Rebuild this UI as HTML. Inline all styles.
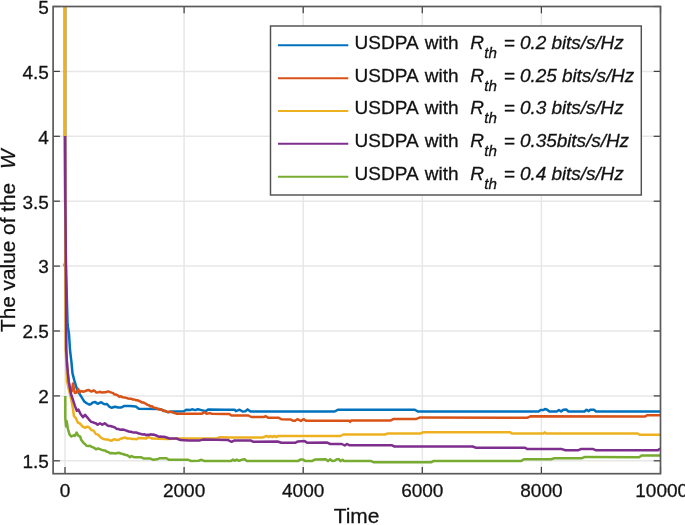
<!DOCTYPE html>
<html><head><meta charset="utf-8"><title>chart</title>
<style>
html,body{margin:0;padding:0;background:#fff;}
body{width:685px;height:525px;position:relative;overflow:hidden;font-family:"Liberation Sans",sans-serif;color:#111;}
.yt{position:absolute;left:0;width:48.9px;text-align:right;font-size:19px;line-height:20px;height:20px;}
.xt{position:absolute;top:481.4px;width:80px;text-align:center;font-size:19px;line-height:20px;}
.lg{position:absolute;left:353px;font-size:19px;line-height:20px;white-space:nowrap;}
.lg.sub{font-size:15.2px;}
.xl{position:absolute;left:301.5px;width:110px;text-align:center;top:506px;font-size:20.9px;line-height:20px;}
.yl{position:absolute;left:-1.6px;top:332.3px;white-space:nowrap;font-size:20.8px;line-height:20px;transform-origin:0 0;transform:rotate(-90deg);}
.yl i{margin-left:13.8px;}
#txt{-webkit-text-stroke:0.3px #1a1a1a;position:absolute;left:0;top:0;width:685px;height:525px;will-change:transform;}
</style></head><body>
<svg width="685" height="525" viewBox="0 0 685 525" style="position:absolute;left:0;top:0">
<rect x="0" y="0" width="685" height="525" fill="#fff"/>
<line x1="65.0" y1="6.5" x2="65.0" y2="473.7" stroke="#e7e7e7" stroke-width="1.5"/>
<line x1="184.1" y1="6.5" x2="184.1" y2="473.7" stroke="#e7e7e7" stroke-width="1.5"/>
<line x1="303.2" y1="6.5" x2="303.2" y2="473.7" stroke="#e7e7e7" stroke-width="1.5"/>
<line x1="422.3" y1="6.5" x2="422.3" y2="473.7" stroke="#e7e7e7" stroke-width="1.5"/>
<line x1="541.4" y1="6.5" x2="541.4" y2="473.7" stroke="#e7e7e7" stroke-width="1.5"/>
<line x1="53.1" y1="460.8" x2="660.5" y2="460.8" stroke="#e7e7e7" stroke-width="1.5"/>
<line x1="53.1" y1="395.9" x2="660.5" y2="395.9" stroke="#e7e7e7" stroke-width="1.5"/>
<line x1="53.1" y1="331.0" x2="660.5" y2="331.0" stroke="#e7e7e7" stroke-width="1.5"/>
<line x1="53.1" y1="266.1" x2="660.5" y2="266.1" stroke="#e7e7e7" stroke-width="1.5"/>
<line x1="53.1" y1="201.2" x2="660.5" y2="201.2" stroke="#e7e7e7" stroke-width="1.5"/>
<line x1="53.1" y1="136.3" x2="660.5" y2="136.3" stroke="#e7e7e7" stroke-width="1.5"/>
<line x1="53.1" y1="71.4" x2="660.5" y2="71.4" stroke="#e7e7e7" stroke-width="1.5"/>
<line x1="65.0" y1="473.7" x2="65.0" y2="466.9" stroke="#404040" stroke-width="1.25"/>
<line x1="65.0" y1="6.5" x2="65.0" y2="13.3" stroke="#404040" stroke-width="1.25"/>
<line x1="184.1" y1="473.7" x2="184.1" y2="466.9" stroke="#404040" stroke-width="1.25"/>
<line x1="184.1" y1="6.5" x2="184.1" y2="13.3" stroke="#404040" stroke-width="1.25"/>
<line x1="303.2" y1="473.7" x2="303.2" y2="466.9" stroke="#404040" stroke-width="1.25"/>
<line x1="303.2" y1="6.5" x2="303.2" y2="13.3" stroke="#404040" stroke-width="1.25"/>
<line x1="422.3" y1="473.7" x2="422.3" y2="466.9" stroke="#404040" stroke-width="1.25"/>
<line x1="422.3" y1="6.5" x2="422.3" y2="13.3" stroke="#404040" stroke-width="1.25"/>
<line x1="541.4" y1="473.7" x2="541.4" y2="466.9" stroke="#404040" stroke-width="1.25"/>
<line x1="541.4" y1="6.5" x2="541.4" y2="13.3" stroke="#404040" stroke-width="1.25"/>
<line x1="660.5" y1="473.7" x2="660.5" y2="466.9" stroke="#404040" stroke-width="1.25"/>
<line x1="660.5" y1="6.5" x2="660.5" y2="13.3" stroke="#404040" stroke-width="1.25"/>
<line x1="53.1" y1="460.8" x2="59.9" y2="460.8" stroke="#404040" stroke-width="1.25"/>
<line x1="660.5" y1="460.8" x2="653.7" y2="460.8" stroke="#404040" stroke-width="1.25"/>
<line x1="53.1" y1="395.9" x2="59.9" y2="395.9" stroke="#404040" stroke-width="1.25"/>
<line x1="660.5" y1="395.9" x2="653.7" y2="395.9" stroke="#404040" stroke-width="1.25"/>
<line x1="53.1" y1="331.0" x2="59.9" y2="331.0" stroke="#404040" stroke-width="1.25"/>
<line x1="660.5" y1="331.0" x2="653.7" y2="331.0" stroke="#404040" stroke-width="1.25"/>
<line x1="53.1" y1="266.1" x2="59.9" y2="266.1" stroke="#404040" stroke-width="1.25"/>
<line x1="660.5" y1="266.1" x2="653.7" y2="266.1" stroke="#404040" stroke-width="1.25"/>
<line x1="53.1" y1="201.2" x2="59.9" y2="201.2" stroke="#404040" stroke-width="1.25"/>
<line x1="660.5" y1="201.2" x2="653.7" y2="201.2" stroke="#404040" stroke-width="1.25"/>
<line x1="53.1" y1="136.3" x2="59.9" y2="136.3" stroke="#404040" stroke-width="1.25"/>
<line x1="660.5" y1="136.3" x2="653.7" y2="136.3" stroke="#404040" stroke-width="1.25"/>
<line x1="53.1" y1="71.4" x2="59.9" y2="71.4" stroke="#404040" stroke-width="1.25"/>
<line x1="660.5" y1="71.4" x2="653.7" y2="71.4" stroke="#404040" stroke-width="1.25"/>
<line x1="53.1" y1="6.5" x2="59.9" y2="6.5" stroke="#404040" stroke-width="1.25"/>
<line x1="660.5" y1="6.5" x2="653.7" y2="6.5" stroke="#404040" stroke-width="1.25"/>
<path d="M65.0 6.5 L65.0 136.0 L65.2 200.0 L65.9 265.0 L66.9 300.0 L67.6 325.0 L69.0 334.0 L70.0 350.0 L71.4 361.7 L72.5 373.4 L74.3 380.4 L76.0 386.2 L78.4 392.1 L81.3 396.7 L82.8 399.1 L84.2 401.4 L85.7 402.5 L87.1 403.5 L89.5 404.7 L91.0 404.1 L92.4 402.6 L93.8 402.3 L95.3 402.0 L96.8 403.3 L98.2 403.7 L99.7 402.8 L101.1 402.2 L102.5 403.1 L104.0 404.0 L105.5 404.2 L107.0 404.0 L109.3 406.7 L111.7 407.8 L113.2 407.3 L114.6 406.7 L116.3 407.0 L118.1 407.5 L119.5 407.5 L121.0 407.5 L122.5 406.8 L123.9 406.1 L130.0 406.1 L135.8 406.4 L138.8 408.7 L159.2 409.0 L163.0 410.3 L168.0 412.2 L172.3 411.5 L184.0 411.2 L186.2 409.7 L189.8 410.1 L192.0 409.3 L195.0 410.1 L197.9 409.3 L201.5 410.1 L205.9 411.2 L208.1 409.4 L225.0 409.7 L234.5 409.7 L235.9 411.2 L239.6 409.7 L242.5 411.5 L245.4 411.2 L247.6 409.4 L250.5 411.5 L334.6 411.5 L338.2 409.7 L414.9 409.7 L417.8 411.5 L538.5 411.5 L540.7 410.0 L543.6 410.0 L545.0 409.0 L547.2 409.7 L549.4 411.5 L556.7 411.5 L558.9 410.0 L561.1 411.5 L563.3 409.7 L566.2 409.4 L568.4 411.5 L584.5 411.5 L586.6 409.7 L588.8 411.2 L590.3 409.7 L593.9 409.7 L596.1 411.5 L660.2 411.5" fill="none" stroke="#0072BD" stroke-width="2.5" stroke-linejoin="round" stroke-linecap="butt"/>
<path d="M65.0 6.5 L65.0 136.0 L65.2 200.0 L65.5 262.0 L64.5 265.0 L65.7 268.0 L66.0 300.0 L66.1 350.0 L67.2 367.5 L68.6 381.5 L70.4 391.5 L71.8 391.2 L73.0 383.4 L74.8 393.1 L76.5 392.6 L78.3 389.1 L79.6 392.6 L81.3 390.9 L83.5 391.8 L86.1 390.7 L87.4 390.3 L88.8 390.0 L90.1 390.9 L91.4 391.6 L93.6 390.4 L94.9 391.1 L96.2 392.5 L98.4 392.2 L100.2 391.8 L101.9 392.6 L104.5 392.2 L106.0 392.2 L107.4 391.6 L108.9 391.6 L111.5 392.6 L112.9 392.9 L114.3 394.4 L115.7 394.4 L117.5 395.3 L119.3 396.7 L121.0 396.3 L122.8 397.3 L124.5 397.5 L126.3 397.9 L128.2 398.5 L130.0 398.8 L131.4 398.7 L132.9 399.6 L134.4 399.5 L135.8 400.2 L137.3 400.3 L138.8 400.8 L140.2 401.4 L141.7 402.4 L143.2 402.4 L144.6 403.2 L146.1 403.8 L147.5 404.9 L149.0 405.3 L150.4 406.5 L151.9 406.1 L153.4 407.5 L154.8 407.8 L156.3 407.9 L157.8 409.0 L159.2 409.5 L160.7 409.3 L162.1 409.9 L163.6 410.9 L165.1 410.7 L166.5 411.6 L167.9 412.1 L169.4 411.6 L170.9 411.7 L172.3 412.2 L173.8 413.0 L175.2 413.0 L176.7 413.8 L201.5 413.8 L204.5 412.2 L206.6 413.8 L209.6 413.1 L211.8 413.8 L225.0 414.1 L229.4 414.1 L231.6 415.5 L248.4 415.5 L251.3 417.0 L263.7 417.0 L265.9 416.3 L268.1 417.7 L278.3 417.7 L281.2 419.2 L290.7 419.5 L292.9 420.7 L295.1 420.7 L297.3 419.2 L300.9 420.9 L303.8 419.2 L306.0 420.7 L349.2 420.7 L350.2 421.8 L351.4 420.4 L390.8 420.4 L393.7 418.9 L416.4 418.9 L420.1 417.4 L527.5 417.7 L530.4 416.3 L644.9 416.6 L647.0 415.3 L660.2 415.3" fill="none" stroke="#D95319" stroke-width="2.5" stroke-linejoin="round" stroke-linecap="butt"/>
<path d="M65.1 6.5 L65.1 136.0 L65.2 200.0 L65.5 300.0 L65.8 350.0 L67.0 381.5 L68.9 389.7 L70.7 397.0 L71.7 402.0 L73.0 409.0 L73.9 416.0 L76.0 418.4 L77.8 422.5 L80.1 423.6 L82.5 426.5 L84.0 427.2 L85.4 427.7 L86.8 426.7 L88.3 426.8 L89.8 428.2 L91.2 430.0 L93.6 430.6 L95.9 434.1 L97.3 434.4 L98.8 435.3 L100.2 436.8 L101.7 438.2 L103.5 439.0 L105.2 439.4 L107.0 439.4 L108.7 439.7 L110.2 440.6 L111.7 440.8 L113.2 439.6 L114.6 439.2 L116.0 439.8 L117.5 440.0 L119.0 439.7 L120.4 438.8 L121.8 438.6 L123.1 437.9 L124.5 437.6 L126.0 437.9 L127.4 438.6 L130.0 438.6 L131.3 438.7 L132.6 439.0 L134.0 439.0 L135.3 439.1 L136.6 439.3 L138.8 437.9 L146.0 438.6 L148.7 437.0 L151.9 438.6 L166.5 438.9 L179.6 438.5 L200.0 438.6 L217.6 438.2 L219.8 437.2 L230.0 437.4 L263.0 437.4 L266.6 436.0 L268.8 437.0 L270.3 436.0 L272.4 437.0 L274.6 436.0 L276.1 437.0 L278.3 436.0 L340.4 436.0 L343.4 434.5 L385.0 434.5 L387.9 433.4 L420.8 433.4 L423.0 432.3 L509.2 432.3 L510.4 432.3 L511.5 433.5 L543.6 433.5 L544.7 432.3 L545.9 433.5 L637.6 433.5 L639.7 434.8 L660.2 434.8" fill="none" stroke="#EDB120" stroke-width="2.5" stroke-linejoin="round" stroke-linecap="butt"/>
<path d="M65.1 136.0 L65.3 200.0 L65.9 265.0 L66.1 300.0 L66.2 350.0 L67.3 367.5 L68.7 381.5 L70.8 393.2 L71.5 395.5 L73.3 400.8 L75.0 406.1 L76.8 410.8 L78.4 409.6 L80.7 414.3 L83.0 417.2 L85.1 414.9 L86.4 416.4 L87.7 417.8 L89.5 420.2 L91.2 421.9 L93.0 422.3 L94.7 423.0 L96.2 423.5 L97.6 424.8 L100.0 423.3 L102.3 424.8 L104.7 423.3 L107.0 425.1 L108.8 426.1 L110.5 426.0 L112.0 426.5 L113.4 426.8 L115.2 427.7 L116.9 428.9 L118.7 429.1 L120.4 429.8 L122.2 429.5 L123.9 429.8 L125.7 430.4 L127.4 431.0 L129.2 431.7 L130.9 431.8 L132.5 432.3 L134.1 432.4 L135.7 432.5 L137.3 432.8 L138.8 433.6 L140.2 433.7 L141.7 434.3 L143.1 434.5 L144.6 434.3 L146.1 435.2 L147.5 434.7 L149.0 435.0 L150.5 434.3 L151.9 434.7 L153.4 434.5 L154.8 435.0 L156.3 435.5 L157.8 436.2 L159.2 436.7 L160.6 436.5 L162.1 436.7 L163.6 436.7 L165.0 437.0 L166.5 437.5 L167.9 438.0 L169.4 438.5 L176.7 438.5 L180.4 440.1 L188.4 440.4 L200.0 440.4 L203.0 439.6 L227.8 439.9 L228.6 440.4 L231.6 441.8 L234.5 440.4 L250.5 440.4 L253.5 441.8 L277.6 441.5 L281.2 442.8 L295.1 442.8 L298.0 441.4 L304.6 441.1 L307.5 442.8 L327.3 442.6 L330.2 444.0 L341.9 444.0 L344.8 445.5 L347.0 444.0 L349.2 445.2 L391.5 445.2 L394.5 446.5 L472.7 446.5 L475.6 447.7 L524.6 447.7 L527.5 449.1 L561.8 449.1 L565.5 450.3 L577.9 450.3 L580.8 449.1 L593.2 449.1 L596.1 450.3 L658.0 450.3 L660.2 448.4" fill="none" stroke="#7E2F8E" stroke-width="2.5" stroke-linejoin="round" stroke-linecap="butt"/>
<path d="M65.3 395.9 L65.3 418.4 L66.1 426.5 L66.7 421.3 L67.9 428.9 L69.6 434.7 L71.4 436.5 L73.7 435.3 L74.9 435.9 L76.6 432.6 L78.4 435.9 L80.1 436.5 L81.3 440.0 L83.6 442.9 L85.0 444.0 L86.5 445.8 L88.2 445.9 L90.0 445.8 L91.8 446.8 L93.6 447.6 L95.9 449.3 L98.2 448.5 L100.0 449.1 L101.7 449.9 L103.5 450.4 L105.2 450.5 L106.8 451.8 L108.3 451.9 L109.9 453.2 L111.7 453.0 L113.4 453.2 L115.7 453.6 L117.2 452.9 L118.7 452.8 L120.1 453.2 L121.4 453.8 L122.8 454.0 L124.3 454.5 L125.9 455.0 L127.4 455.3 L130.0 457.2 L131.5 456.0 L132.9 456.7 L134.4 457.2 L140.9 457.2 L143.9 458.6 L150.4 458.6 L153.4 459.8 L157.0 459.3 L159.9 458.2 L166.5 458.3 L168.7 459.8 L188.4 459.8 L191.3 461.1 L198.6 460.8 L201.5 459.8 L204.5 461.1 L230.8 461.1 L233.0 459.6 L234.5 460.8 L236.7 459.6 L238.9 460.8 L242.5 459.6 L244.7 459.3 L246.9 461.1 L298.0 461.1 L300.2 459.6 L303.1 459.6 L305.3 461.1 L311.9 461.1 L314.8 459.6 L325.8 459.3 L328.0 461.1 L330.2 459.3 L332.4 461.1 L334.6 460.8 L336.8 459.3 L339.0 459.3 L340.4 461.1 L342.6 459.8 L344.1 461.1 L371.1 461.1 L374.0 462.3 L431.1 462.3 L433.2 461.1 L520.9 461.1 L523.9 459.3 L550.9 459.3 L554.5 458.2 L581.5 458.2 L585.2 456.9 L639.0 457.2 L641.9 455.4 L660.2 455.4" fill="none" stroke="#77AC30" stroke-width="2.5" stroke-linejoin="round" stroke-linecap="butt"/>
<rect x="53.1" y="6.5" width="607.4" height="467.2" fill="none" stroke="#5a5a5a" stroke-width="1.7"/>
<rect x="270.5" y="26.0" width="370.8" height="169.0" fill="#fff" stroke="#505050" stroke-width="1.45"/>
<line x1="278" y1="45.3" x2="348.3" y2="45.3" stroke="#0072BD" stroke-width="2.05"/>
<line x1="278" y1="78.2" x2="348.3" y2="78.2" stroke="#D95319" stroke-width="2.05"/>
<line x1="278" y1="111.0" x2="348.3" y2="111.0" stroke="#EDB120" stroke-width="2.05"/>
<line x1="278" y1="143.8" x2="348.3" y2="143.8" stroke="#7E2F8E" stroke-width="2.05"/>
<line x1="278" y1="176.7" x2="348.3" y2="176.7" stroke="#77AC30" stroke-width="2.05"/>
</svg>
<div id="txt">
<div class="yt" style="top:452.1px">1.5</div>
<div class="yt" style="top:387.2px">2</div>
<div class="yt" style="top:322.3px">2.5</div>
<div class="yt" style="top:257.4px">3</div>
<div class="yt" style="top:192.5px">3.5</div>
<div class="yt" style="top:127.6px">4</div>
<div class="yt" style="top:62.7px">4.5</div>
<div class="yt" style="top:-2.2px">5</div>
<div class="xt" style="left:25.0px">0</div>
<div class="xt" style="left:144.1px">2000</div>
<div class="xt" style="left:263.2px">4000</div>
<div class="xt" style="left:382.3px">6000</div>
<div class="xt" style="left:501.4px">8000</div>
<div class="xt" style="left:621.7px">10000</div>
<div class="lg" style="top:32.6px;left:354.6px;word-spacing:1.9px">USDPA with</div>
<div class="lg" style="top:32.6px;left:470.3px"><i>R</i></div>
<div class="lg sub" style="top:42.7px;left:484.2px"><i>th</i></div>
<div class="lg" style="top:32.6px;left:503.7px"><i style="letter-spacing:-0.06px">= 0.2 bits/s/Hz</i></div>
<div class="lg" style="top:65.5px;left:354.6px;word-spacing:1.9px">USDPA with</div>
<div class="lg" style="top:65.5px;left:470.3px"><i>R</i></div>
<div class="lg sub" style="top:75.5px;left:484.2px"><i>th</i></div>
<div class="lg" style="top:65.5px;left:503.7px"><i style="letter-spacing:-0.06px">= 0.25 bits/s/Hz</i></div>
<div class="lg" style="top:98.3px;left:354.6px;word-spacing:1.9px">USDPA with</div>
<div class="lg" style="top:98.3px;left:470.3px"><i>R</i></div>
<div class="lg sub" style="top:108.4px;left:484.2px"><i>th</i></div>
<div class="lg" style="top:98.3px;left:503.7px"><i style="letter-spacing:-0.06px">= 0.3 bits/s/Hz</i></div>
<div class="lg" style="top:131.2px;left:354.6px;word-spacing:1.9px">USDPA with</div>
<div class="lg" style="top:131.2px;left:470.3px"><i>R</i></div>
<div class="lg sub" style="top:141.2px;left:484.2px"><i>th</i></div>
<div class="lg" style="top:131.2px;left:503.7px"><i style="letter-spacing:-0.06px">= 0.35bits/s/Hz</i></div>
<div class="lg" style="top:164.0px;left:354.6px;word-spacing:1.9px">USDPA with</div>
<div class="lg" style="top:164.0px;left:470.3px"><i>R</i></div>
<div class="lg sub" style="top:174.1px;left:484.2px"><i>th</i></div>
<div class="lg" style="top:164.0px;left:503.7px"><i style="letter-spacing:-0.06px">= 0.4 bits/s/Hz</i></div>
<div class="xl">Time</div>
<div class="yl">The value of the<i>W</i></div>
</div>
</body></html>
